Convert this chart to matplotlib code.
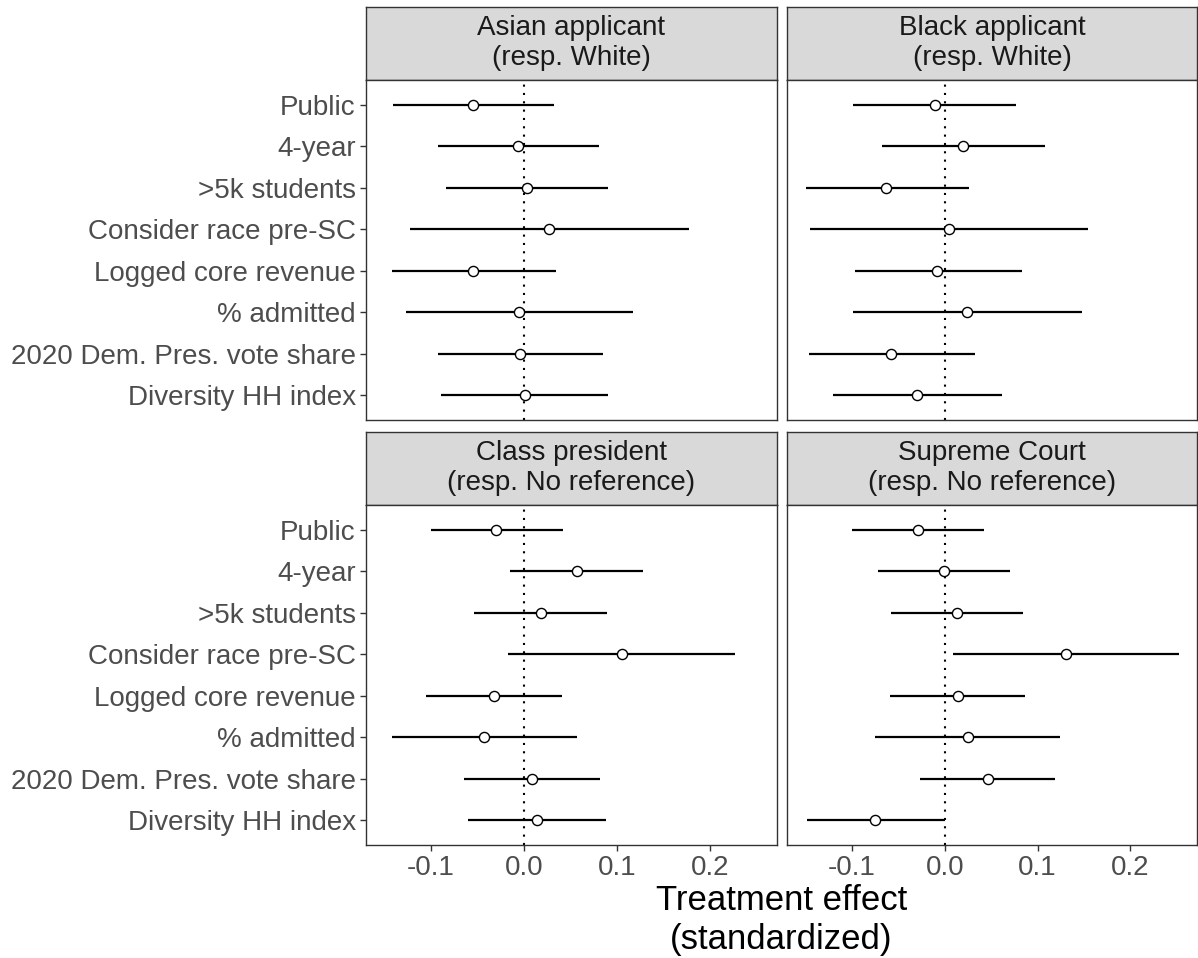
import matplotlib.pyplot as plt
import numpy as np

plt.rcParams['font.family'] = ['Liberation Sans', 'DejaVu Sans']

# Covariates (top to bottom)
covariates = ["Public", "4-year", ">5k students", "Consider race pre-SC",
              "Logged core revenue", "% admitted", "2020 Dem. Pres. vote share",
              "Diversity HH index"]

# Facet titles
panels = ["Asian applicant\n(resp. White)", "Black applicant\n(resp. White)",
          "Class president\n(resp. No reference)", "Supreme Court\n(resp. No reference)"]

# Point estimates and 95% CI bounds per facet
asian_est = [-0.054, -0.006, 0.003, 0.027, -0.054, -0.005, -0.004, 0.001]
asian_lo = [-0.140, -0.092, -0.084, -0.122, -0.142, -0.126, -0.092, -0.089]
asian_hi = [0.033, 0.081, 0.090, 0.177, 0.035, 0.117, 0.085, 0.091]

black_est = [-0.011, 0.020, -0.063, 0.004, -0.008, 0.024, -0.058, -0.030]
black_lo = [-0.099, -0.068, -0.150, -0.146, -0.097, -0.099, -0.147, -0.121]
black_hi = [0.077, 0.108, 0.026, 0.154, 0.083, 0.148, 0.033, 0.062]

classpres_est = [-0.030, 0.057, 0.018, 0.105, -0.032, -0.043, 0.009, 0.014]
classpres_lo = [-0.100, -0.015, -0.053, -0.017, -0.105, -0.142, -0.064, -0.060]
classpres_hi = [0.042, 0.128, 0.089, 0.227, 0.041, 0.057, 0.082, 0.088]

scotus_est = [-0.029, -0.001, 0.013, 0.131, 0.014, 0.025, 0.046, -0.075]
scotus_lo = [-0.100, -0.072, -0.058, 0.009, -0.059, -0.075, -0.027, -0.149]
scotus_hi = [0.042, 0.070, 0.084, 0.253, 0.086, 0.124, 0.119, 0.000]

series = [(asian_est, asian_lo, asian_hi),
          (black_est, black_lo, black_hi),
          (classpres_est, classpres_lo, classpres_hi),
          (scotus_est, scotus_lo, scotus_hi)]

W, H = 1198, 958
fig = plt.figure(figsize=(W / 100, H / 100), dpi=100)

# panel boxes in pixels: (left, right), (strip top, panel top, panel bottom)
cols = [(365.5, 777.0), (787.3, 1197.0)]
rows = [(7.0, 79.7, 420.0), (431.7, 505.0, 845.0)]

edge = '#333333'
ypos = np.arange(1, len(covariates) + 1)

for i, (label, (est, lo, hi)) in enumerate(zip(panels, series)):
    r, c = divmod(i, 2)
    x0, x1 = cols[c]
    s_top, p_top, p_bot = rows[r]

    # strip
    sax = fig.add_axes([x0 / W, 1 - p_top / H, (x1 - x0) / W, (p_top - s_top) / H])
    sax.set_facecolor('#d9d9d9')
    sax.set_xticks([])
    sax.set_yticks([])
    for sp in sax.spines.values():
        sp.set_color(edge)
        sp.set_linewidth(1.0)
    sax.text(0.5, 0.5, label, ha='center', va='center', fontsize=20,
             color='#1a1a1a', linespacing=1.2, transform=sax.transAxes)

    # panel
    ax = fig.add_axes([x0 / W, 1 - p_bot / H, (x1 - x0) / W, (p_bot - p_top) / H])
    ax.axvline(0, color='black', linestyle=(0, (1, 3)), linewidth=1.5, zorder=1)
    ax.hlines(ypos, lo, hi, color='black', linewidth=1.6, zorder=2)
    ax.plot(est, ypos, 'o', markersize=7.3, markerfacecolor='white',
            markeredgecolor='black', markeredgewidth=1.0, zorder=3)
    ax.set_xlim(-0.170, 0.272)
    ax.set_ylim(len(covariates) + 0.6, 0.4)
    for sp in ax.spines.values():
        sp.set_color(edge)
        sp.set_linewidth(1.0)

    ax.set_yticks(ypos)
    if c == 0:
        ax.set_yticklabels(covariates, fontsize=20, color='#4d4d4d')
        ax.tick_params(axis='y', length=4, width=1.0, color=edge, pad=3)
    else:
        ax.set_yticklabels([])
        ax.tick_params(axis='y', length=0)

    ax.set_xticks([-0.1, 0.0, 0.1, 0.2])
    if r == 1:
        ax.set_xticklabels(['-0.1', '0.0', '0.1', '0.2'], fontsize=20, color='#4d4d4d')
        ax.tick_params(axis='x', length=4, width=1.0, color=edge, pad=3)
    else:
        ax.set_xticklabels([])
        ax.tick_params(axis='x', length=0)

fig.text((365.5 + 1197) / 2 / W, 1 - 920 / H, "Treatment effect\n(standardized)",
         ha='center', va='center', fontsize=25, color='black', linespacing=1.2)

fig.savefig('out.png', dpi=100, facecolor='white')
